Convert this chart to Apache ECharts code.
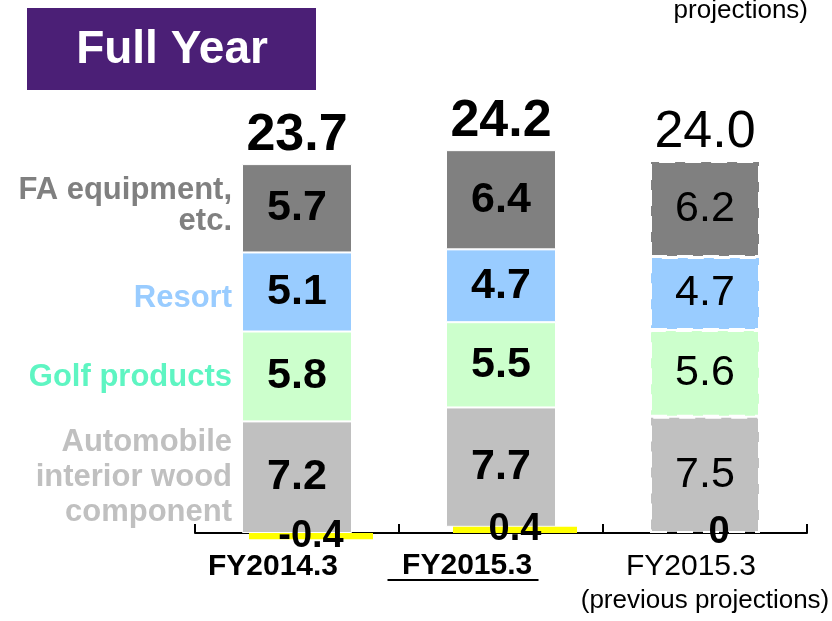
<!DOCTYPE html>
<html>
<head>
<meta charset="utf-8">
<script src="https://cdn.jsdelivr.net/npm/echarts@6/dist/echarts.min.js"></script>
<style>
  html, body { margin: 0; padding: 0; background: #fff; }
  #main { width: 832px; height: 621px; }
</style>
</head>
<body>
<div id="main"></div>
<script>
// values (billion yen)
var categories = ['FY2014.3', 'FY2015.3', 'FY2015.3'];
var automobile = [7.2, 7.7, 7.5];
var golf = [5.8, 5.5, 5.6];
var resort = [5.1, 4.7, 4.7];
var fa = [5.7, 6.4, 6.2];
var adjust = [-0.4, 0.4, 0];
var totals = ['23.7', '24.2', '24.0'];
var subNote = '(previous projections)';

var FONT = "'Liberation Sans', Arial, sans-serif";

// third column is the previous projection: dashed outline, plain weight
function seg(values) {
  return values.map(function (v, i) {
    if (i !== 2) return v;
    return {
      value: v,
      itemStyle: { borderColor: '#fff', borderWidth: 2, borderType: [16, 10] },
      label: { fontWeight: 'normal' }
    };
  });
}

function stackSeries(name, values, color) {
  return {
    name: name,
    type: 'bar',
    stack: 'a',
    barWidth: 110,
    data: seg(values),
    itemStyle: { color: color, borderColor: '#fff', borderWidth: 1 },
    label: {
      show: true,
      position: 'inside',
      color: '#000',
      fontSize: 43,
      fontWeight: 'bold',
      fontFamily: FONT
    }
  };
}

var chart = echarts.init(document.getElementById('main'));

var option = {
  animation: false,
  grid: [
    { left: 195, right: 25, top: 130, bottom: 57, outerBoundsMode: 'none', containLabel: false },
    { left: 209, right: 11, top: 130, bottom: 57, outerBoundsMode: 'none', containLabel: false }
  ],
  xAxis: [{
    type: 'category',
    gridIndex: 0,
    data: categories,
    axisLine: { show: true, onZero: true, lineStyle: { color: '#000', width: 2 } },
    axisTick: { show: true, inside: true, length: 9, interval: 0,
                lineStyle: { color: '#000', width: 2 } },
    axisLabel: {
      interval: 0,
      // labels are laid out from the grid bottom, the line sits on zero above it
      margin: -12,
      formatter: function (v, i) {
        if (i === 0) return '{a|' + v + '}';
        if (i === 1) return '{b| ' + v + '}\n{u| }{s| }';
        return '{c|' + v + '}\n{p|' + subNote + '}';
      },
      rich: {
        a: { fontSize: 30, fontWeight: 'bold', fontFamily: FONT, color: '#000',
             lineHeight: 30, padding: [0, 48, 0, 0] },
        b: { fontSize: 30, fontWeight: 'bold', fontFamily: FONT, color: '#000',
             lineHeight: 27, padding: [0, 76, 0, 0] },
        u: { width: 151, height: 2, lineHeight: 2, backgroundColor: '#000' },
        s: { width: 76, height: 2, lineHeight: 2 },
        c: { fontSize: 30, fontFamily: FONT, color: '#000',
             lineHeight: 30, padding: [0, 28, 0, 0] },
        p: { fontSize: 26, fontFamily: FONT, color: '#000', lineHeight: 38 }
      }
    }
  }, {
    type: 'category',
    gridIndex: 1,
    data: categories,
    show: false
  }],
  yAxis: [
    { type: 'value', gridIndex: 0, min: -2, max: 26, show: false, splitLine: { show: false } },
    { type: 'value', gridIndex: 1, min: -2, max: 26, show: false, splitLine: { show: false } }
  ],
  series: [
    {
      // keeps the stack's base where the adjustment ends
      name: 'spacer',
      type: 'bar',
      stack: 'a',
      barWidth: 110,
      data: adjust,
      silent: true,
      itemStyle: { color: 'rgba(0,0,0,0)' }
    },
    stackSeries('Automobile interior wood component', automobile, '#c0c0c0'),
    stackSeries('Golf products', golf, '#ccffcc'),
    stackSeries('Resort', resort, '#99ccff'),
    stackSeries('FA equipment, etc.', fa, '#808080'),
    {
      name: 'Total',
      type: 'bar',
      stack: 'a',
      barWidth: 110,
      data: totals.map(function (t, i) {
        return i === 2 ? { value: 0, label: { fontWeight: 'normal' } } : 0;
      }),
      itemStyle: { color: 'rgba(0,0,0,0)' },
      label: {
        show: true,
        position: 'top',
        distance: 2,
        fontSize: 52,
        fontWeight: 'bold',
        fontFamily: FONT,
        color: '#000',
        formatter: function (p) { return totals[p.dataIndex]; }
      }
    },
    {
      name: 'Adjustment',
      type: 'bar',
      xAxisIndex: 1,
      yAxisIndex: 1,
      barWidth: 124,
      z: 3,
      data: adjust,
      itemStyle: { color: '#ffff00' },
      label: {
        show: true,
        position: 'inside',
        color: '#000',
        fontSize: 38,
        fontWeight: 'bold',
        fontFamily: FONT
      }
    }
  ],
  graphic: [
    {
      type: 'rect',
      shape: { x: 27, y: 8, width: 289, height: 82 },
      style: { fill: '#4b1f76' }
    },
    {
      type: 'text',
      x: 172, y: 50,
      style: { text: 'Full Year', fill: '#fff', fontSize: 46, fontWeight: 'bold',
               fontFamily: FONT, align: 'center', verticalAlign: 'middle' }
    },
    {
      type: 'text',
      x: 808, y: 11,
      style: { text: 'projections)', fill: '#000', fontSize: 26,
               fontFamily: FONT, align: 'right', verticalAlign: 'middle' }
    },
    {
      type: 'text',
      x: 232, y: 206,
      style: { text: 'FA equipment,\netc.', fill: '#808080', fontSize: 31, fontWeight: 'bold',
               lineHeight: 31, fontFamily: FONT, align: 'right', verticalAlign: 'middle' }
    },
    {
      type: 'text',
      x: 232, y: 298,
      style: { text: 'Resort', fill: '#99ccff', fontSize: 31, fontWeight: 'bold',
               fontFamily: FONT, align: 'right', verticalAlign: 'middle' }
    },
    {
      type: 'text',
      x: 232, y: 377,
      style: { text: 'Golf products', fill: '#5ef5c2', fontSize: 31, fontWeight: 'bold',
               fontFamily: FONT, align: 'right', verticalAlign: 'middle' }
    },
    {
      type: 'text',
      x: 232, y: 477,
      style: { text: 'Automobile\ninterior wood\ncomponent', fill: '#c0c0c0', fontSize: 31,
               fontWeight: 'bold', lineHeight: 35, fontFamily: FONT,
               align: 'right', verticalAlign: 'middle' }
    }
  ]
};

chart.setOption(option);
</script>
</body>
</html>
